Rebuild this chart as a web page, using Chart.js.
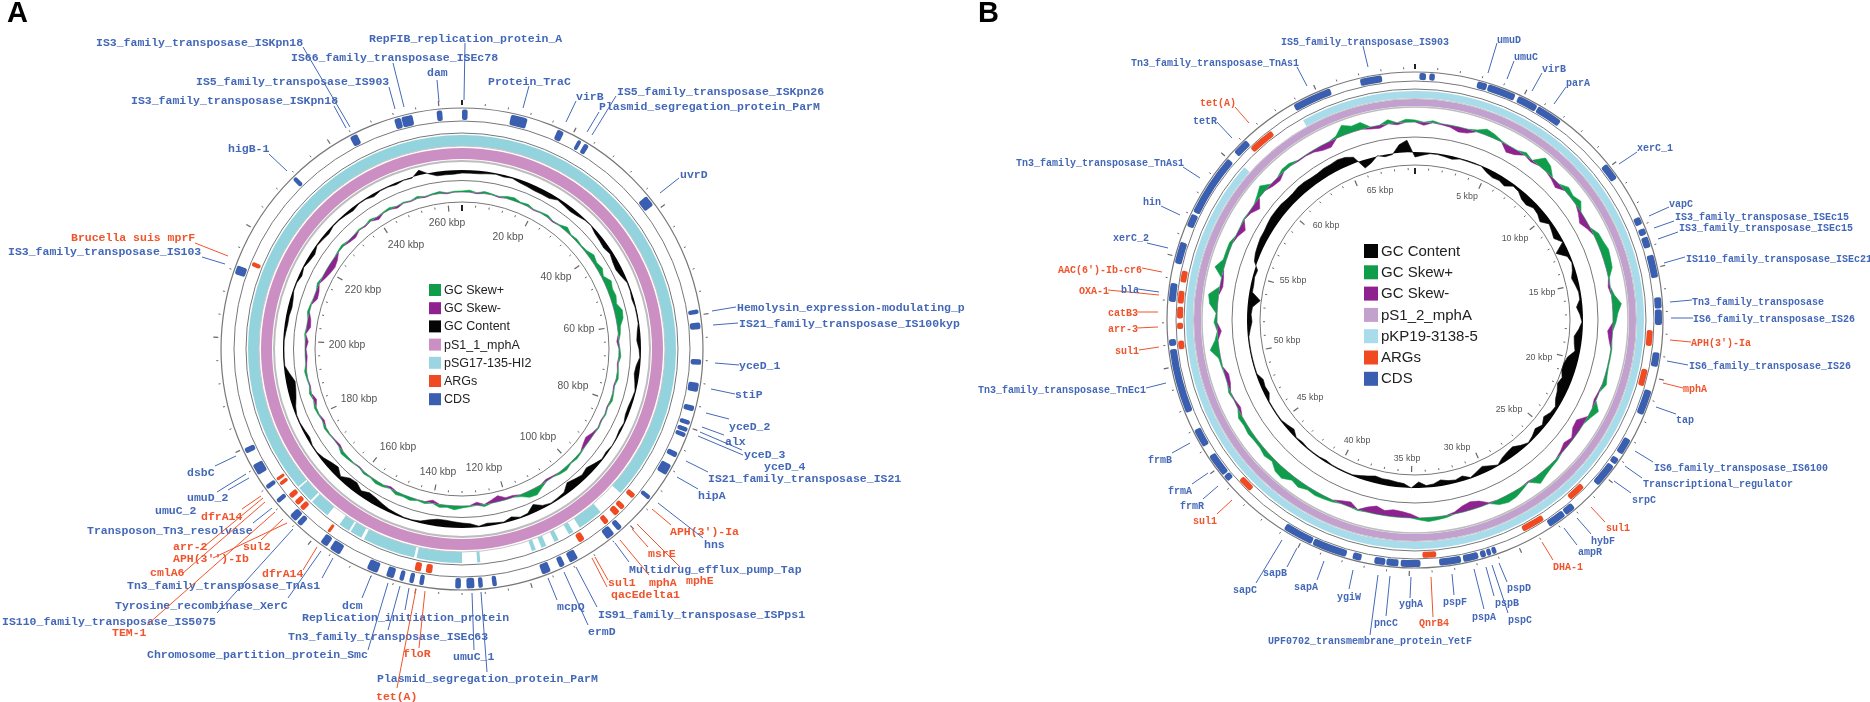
<!DOCTYPE html>
<html>
<head>
<meta charset="utf-8">
<title>Plasmid maps</title>
<script src="https://cdn.jsdelivr.net/npm/chart.js@4"></script>
<style>
  body { margin: 0; background: #fff; }
  canvas { position: absolute; top: 0; }
</style>
</head>
<body>
<canvas id="ringsA" width="1000" height="702" style="left:0"></canvas>
<canvas id="ringsB" width="935" height="702" style="left:935px"></canvas>
<canvas id="trackA" width="1000" height="702" style="left:0"></canvas>
<canvas id="trackB" width="935" height="702" style="left:935px"></canvas>
<script>
// panel A, plasmid length 264 kbp, profiles every 2 kbp
const lengthA = 264;
const stepA = 2;
const gcA = [
  -3,-3,-3,-2,-1,-2,-1,-3,-4,-5,
  -5,-5,-2,-3,-4,-3,-1,-0.5,-3,-4,
  -5,-3,-5,-6,-4,-1,-1,-2,-1,-1,
  -1,-3,-4,-2,-1,-4,-5,-3,-1,-2,
  -3,-3,-1,-2,-1,-0.5,-2,-1,-4,-7,
  -5,-7,-9,-3,-2,-1,-3,-8,-2,-1,
  -4,-1,-2,-3,-1,-4,-5,-6,-7,-7,
  -5,-2,-1,-1,-2,-3,-5,-7,-8,-5,
  -9,-8,-3,-8,-6,-3,-1,-1,-3,-2,
  -1,-1,-3,-6,-8,-9,-5,-1,-1,-1,
  -1,-2,-3,-3,-4,-3,-1,-1,-3,-1,
  -3,-4,-1,-2,-3,-1,-1,-2,-3,-1,
  -1,-3,-1,-1,-2,-0.5,-1,5,-0.5,-4,
  -4,-4
];
const skewA = [
  1,2,-1,2,1,-1,2,3,1,2,
  -1,1,2,-1,1,4,1,2,1,2,
  5,3,5,2,7,5,6,4,8,7,
  3,2,-2,1,2,-1,1,2,-1,1,
  2,-1,1,-1,1,-2,-5,-3,1,2,
  1,3,2,-1,-2,3,7,6,2,-2,
  -2,-6,-3,2,-3,1,2,4,2,3,
  -3,2,1,3,2,3,-2,2,3,1,
  2,-1,1,2,3,-2,-1,1,2,-2,
  1,2,-3,2,-1,1,2,-1,-2,-1,
  -3,1,-4,-3,2,1,-4,-3,2,-3,
  -5,-6,-4,1,2,-2,-3,1,-1,2,
  -3,1,2,-2,1,-1,2,-1,1,2,
  -1,1
];
const cdsStartA = [0,8.7,17.3,21.3,22.6,36.9,59,61.3,67.8,72,76.1,78.8,80.1,81.1,84.8,87.3,93.8,101.2,103,110.7,113.3,116,125.8,128.3,129.8,132.2,138.8,140.6,142.4,144.2,147.2,154.6,157.2,163,164.3,168.6,171.7,174.7,179,211.4,231,243.5,251.9,253.2,259.5];
const cdsEndA = [1,11.7,18.5,22,23.5,38.9,59.8,62.5,68.8,73.6,77.1,79.6,80.9,81.9,85.8,89.3,94.6,102.2,104.6,112.3,114.3,117.6,126.6,129.1,131.2,133.2,139.6,141.4,143.2,145.6,149.2,156.6,158.6,164,165.7,169.4,172.5,176.7,180,213,231.8,244.9,253.1,255.2,260.5];
const argStartA = [95.3,98.2,99.6,102.3,107.9,137.6,139.7,158.2,164.6,166,167.7,170.8,171.9,213.8];
const argEndA = [96.3,99.2,100.8,103.3,109.1,138.8,140.9,158.8,165.6,167,168.7,171.5,172.5,214.6];
const refStartA = [0,102.4,109,112.3,115,117.2,128.4,132,141.5,152.6,155.4,160.6,165,168.6];
const refEndA = [97,107.5,110,113.2,116,118,129,141,152,155,157.6,164.6,168.3,264];
const queryStartA = [0];
const queryEndA = [264];
const legendNamesA = ['GC Skew+','GC Skew-','GC Content','pS1_1_mphA','pSG17-135-HI2','ARGs','CDS'];
const legendColorsA = ['#0f9d4b','#8e2390','#050505','#cb8fc3','#9bd5e1','#f04a23','#3a5fb0'];
const kbpTicksA = ['20 kbp','40 kbp','60 kbp','80 kbp','100 kbp','120 kbp','140 kbp','160 kbp','180 kbp','200 kbp','220 kbp','240 kbp','260 kbp'];

// panel B, plasmid length 69.5 kbp, profiles every 0.5 kbp
const lengthB = 69.5;
const stepB = 0.5;
const gcB = [
  -5,-3,-1,-1,-2,-3,-1,-1,-1,-0.5,
  -4,-6,-5,-7,-2,-3,-7,-8,-5,-6,
  -9,-3,-5,-7,-1,-12,-3,-1,-3,-6,
  -4,-2,-2,-6,-3,-1,-4,-8,-7,-5,
  -11,-13,-13,-10,-12,-9,-7,-3,-4,-7,
  -3,-6,-3,-1,-4,-8,-7,-5,-1,-4,
  -7,-4,-1,-5,-3,-4,-6,-3,-2,-6,
  0,-4,-5,-6,-6,-7,-5,-3,-1,-1,
  -1,-1,-2,-1,-1,-1,-2,-1,-5,-3,
  -1,-1,-1,-1,-5,-4,-5,-1,-1,-1,
  -1,-1,-1,-3,-5,-4,-5,-12,-3,-3,
  -2,-3,3,5,6,7,7,8,9,9,
  9,8,8,9,9,8,8,9,9,10,
  9,6,-8,-5,0.5,-2,-1,8,12
];
const skewB = [
  2,-3,2,-1,-2,-5,-4,2,6,4,
  1,-7,-5,3,-2,10,7,-2,-5,5,
  3,6,-3,-7,-3,5,6,8,7,6,
  1,-2,3,9,5,3,-5,-3,1,1,
  1,2,4,-1,-2,7,3,-8,-7,-2,
  -5,-2,2,3,5,8,-1,3,6,7,
  5,-1,-6,-8,-6,-2,2,3,4,2,
  -4,-6,-7,-5,-8,-5,1,-5,-3,2,
  3,4,3,6,4,9,8,3,5,3,
  3,4,3,4,-3,-1,2,-3,-4,1,
  2,9,3,-4,3,1,8,10,-3,-2,
  9,3,3,3,-2,-6,1,-2,-7,3,
  7,-3,-4,3,3,-1,-1,-2,-5,-6,
  2,10,6,7,-2,-3,4,-2,3
];
const cdsStartB = [0.2,0.65,2.85,3.35,4.8,5.8,9.8,12.6,13.15,13.55,14.4,16.35,16.9,18.85,20.6,23,24,24.4,26.95,27.5,31,31.25,31.5,31.85,32.65,34.5,35.5,36.1,37.2,37.9,39.55,44.25,44.6,46.15,47.85,50.95,52.95,54.7,56.45,57.15,60.4,63.8,67];
const cdsEndB = [0.5,0.9,3.3,4.65,5.75,7,10.6,12.95,13.45,14.05,15.45,16.85,17.6,19.5,21.75,23.75,24.3,25.5,27.45,28.35,31.2,31.45,31.75,32.55,33.65,35.4,36.05,36.6,37.6,39.5,40.95,44.55,45.65,47,50.8,51.25,53.8,55.7,57.05,60,61.15,65.6,68];
const argStartB = [17.85,19.7,26,28.4,33.75,43.25,50.75,51.7,52.2,52.9,53.9,61.05];
const argEndB = [18.6,20.5,26.85,29.5,34.4,43.95,51.15,52,52.75,53.5,54.45,62.3];
const refStartB = [0,63.85];
const refEndB = [60.2,69.5];
const queryStartB = [0];
const queryEndB = [69.5];
const legendNamesB = ['GC Content','GC Skew+','GC Skew-','pS1_2_mphA','pKP19-3138-5','ARGs','CDS'];
const legendColorsB = ['#050505','#0f9d4b','#8e2390','#c3a1cf','#a8dcea','#f04a23','#3a5fb0'];
const kbpTicksB = ['5 kbp','10 kbp','15 kbp','20 kbp','25 kbp','30 kbp','35 kbp','40 kbp','45 kbp','50 kbp','55 kbp','60 kbp','65 kbp'];

const argNames = ["Brucella suis mprF","APH(3')-Ia",'msrE','mphE','mphA','sul1','qacEdelta1','dfrA14','arr-2','sul2',"APH(3'')-Ib",'cmlA6','TEM-1','floR','tet(A)',"AAC(6')-Ib-cr6",'OXA-1','catB3','arr-3','QnrB4','DHA-1'];

const calloutTextA = [
  'IS3_family_transposase_ISKpn18','IS66_family_transposase_ISEc78','IS5_family_transposase_IS903','IS3_family_transposase_ISKpn18','higB-1','RepFIB_replication_protein_A','dam',
  'Protein_TraC','virB','IS5_family_transposase_ISKpn26','Plasmid_segregation_protein_ParM','uvrD','Hemolysin_expression-modulating_p','IS21_family_transposase_IS100kyp',
  'yceD_1','stiP','yceD_2','alx','yceD_3','yceD_4','IS21_family_transposase_IS21','hipA',"APH(3')-Ia",'hns','msrE','Multidrug_efflux_pump_Tap','mphE','mphA','sul1','qacEdelta1','IS91_family_transposase_ISPps1','mcpQ','ermD','umuC_1','Plasmid_segregation_protein_ParM',
  'dsbC','umuD_2','umuC_2','dfrA14','Transposon_Tn3_resolvase','arr-2','sul2',"APH(3'')-Ib",'cmlA6','dfrA14','Tn3_family_transposase_TnAs1','Tyrosine_recombinase_XerC','dcm','Replication_initiation_protein','IS110_family_transposase_IS5075','TEM-1','Tn3_family_transposase_ISEc63','Chromosome_partition_protein_Smc','floR','tet(A)',
  'Brucella suis mprF','IS3_family_transposase_IS103'
];
// text x, text y, then the leader line
const calloutLayoutA = [
  [96,43,303,47,350,127],[291,58,393,63,404,107],[196,82,389,87,395,109],[131,101,334,106,346,128],[228,149,269,154,287,171],[369,39,465,43,464,100],[427,73,437,80,439,102],
  [488,82,529,86,523,108],[576,97,576,101,566,122],[617,92,616,96,592,135],[599,107,599,112,587,132],[680,175,679,178,660,193],[737,308,736,307,712,311],[739,324,738,323,713,325],
  [739,366,739,365,715,363],[735,395,735,394,711,389],[729,427,729,419,706,413],[725,442,724,435,702,427],[744,455,742,450,700,432],[764,467,743,455,698,436],[708,479,708,472,686,461],[698,496,698,489,677,477],[670,532,671,525,652,509],[704,545,703,538,658,503],[648,554,648,547,632,529],[629,570,629,562,615,543],[686,581,680,567,637,524],[649,583,649,575,620,540],[608,583,608,580,595,557],[611,595,607,587,592,558],[598,615,597,607,576,567],[557,607,557,600,548,578],[588,632,588,625,564,572],[453,657,474,650,472,593],[377,679,487,672,481,592],
  [187,473,215,466,236,456],[187,498,217,492,246,474],[155,511,228,490,249,478],[201,517,242,509,261,496],[87,531,253,523,272,508],[173,547,200,550,263,498],[243,547,261,540,283,519],[173,559,213,558,287,523],[150,573,183,573,265,502],[262,574,303,570,317,547],[127,586,322,578,333,558],[115,606,288,598,321,551],[342,606,362,598,371,576],[302,618,405,610,409,588],[2,622,217,613,293,529],[112,633,147,625,275,512],[288,637,388,630,400,586],[147,655,368,650,388,583],[403,654,419,648,425,591],[376,697,397,688,416,589],
  [71,238,195,243,228,256],[8,252,202,257,225,264]
];
const kbpPosA = [[508,237],[556,277],[579,329],[573,386],[538,437],[484,468],[438,472],[398,447],[359,399],[347,345],[363,290],[406,245],[447,223]];

const calloutTextB = [
  'IS5_family_transposase_IS903','Tn3_family_transposase_TnAs1','tet(A)','tetR','Tn3_family_transposase_TnAs1','hin','xerC_2',"AAC(6')-Ib-cr6",'OXA-1','bla','catB3','arr-3','sul1',
  'Tn3_family_transposase_TnEc1','frmB','frmA','frmR','sul1','sapC','sapB','sapA','ygiW','pncC','yghA','UPF0702_transmembrane_protein_YetF',
  'QnrB4','pspF','pspA','pspB','pspC','pspD','DHA-1','ampR','hybF','sul1','srpC','Transcriptional_regulator','IS6_family_transposase_IS6100','tap','mphA','IS6_family_transposase_IS26',"APH(3')-Ia",
  'IS6_family_transposase_IS26','Tn3_family_transposase','IS110_family_transposase_ISEc21','IS3_family_transposase_ISEc15','IS3_family_transposase_ISEc15','vapC','xerC_1','parA','virB','umuC','umuD'
];
const calloutLayoutB = [
  [1281,42,1363,46,1368,67],[1131,63,1297,67,1307,86],[1200,103,1235,107,1249,123],[1193,121,1217,122,1232,138],[1016,163,1183,167,1200,178],[1143,202,1161,206,1180,215],[1113,238,1147,243,1168,248],[1058,270,1142,268,1162,272],[1079,291,1108,290,1159,295],[1121,290,1138,289,1159,292],[1108,313,1137,312,1158,312],[1108,329,1137,328,1158,327],[1115,351,1139,350,1159,347],
  [978,390,1146,388,1166,383],[1148,460,1172,453,1190,443],[1168,491,1192,484,1208,473],[1180,506,1203,499,1218,486],[1193,521,1217,514,1232,500],[1233,590,1256,583,1282,540],[1263,573,1287,567,1297,548],[1294,587,1317,580,1324,561],[1337,597,1349,589,1353,570],[1374,623,1386,616,1390,576],[1399,604,1410,598,1411,577],[1268,641,1370,635,1378,575],
  [1419,623,1433,617,1431,577],[1443,602,1454,595,1452,574],[1472,617,1484,609,1474,569],[1495,603,1494,596,1486,567],[1508,620,1508,613,1492,565],[1507,588,1507,582,1499,563],[1553,567,1553,560,1542,542],[1578,552,1577,545,1564,528],[1591,541,1591,534,1577,518],[1606,528,1605,522,1591,507],[1632,500,1631,493,1614,481],[1643,484,1642,478,1625,466],[1654,468,1653,462,1635,451],[1676,420,1676,414,1656,407],[1683,389,1683,388,1663,383],[1689,366,1688,365,1667,361],[1691,343,1691,342,1670,340],
  [1693,319,1693,318,1671,318],[1692,302,1692,300,1670,302],[1686,259,1685,257,1664,263],[1679,228,1678,232,1658,239],[1675,217,1674,221,1654,228],[1669,204,1669,207,1649,216],[1637,148,1637,152,1619,164],[1566,83,1566,87,1554,104],[1542,69,1542,73,1532,91],[1514,57,1514,61,1507,79],[1497,40,1497,43,1488,73]
];
const kbpPosB = [[1467,197],[1515,239],[1542,293],[1539,358],[1509,410],[1457,448],[1407,459],[1357,441],[1310,398],[1287,341],[1293,281],[1326,226],[1380,191]];

const blue = '#4468b8';
const orange = '#f0542c';

// turn block starts and ends into doughnut slices with see-through gaps
function slices(starts, ends, total, color) {
  const data = [], colors = [];
  let pos = 0;
  starts.forEach((s, i) => {
    if (s > pos) { data.push(s - pos); colors.push('rgba(0,0,0,0)'); pos = s; }
    data.push(ends[i] - pos); colors.push(color); pos = ends[i];
  });
  if (pos < total) { data.push(total - pos); colors.push('rgba(0,0,0,0)'); }
  return { data, backgroundColor: colors, borderWidth: 0 };
}
function spacer(w) {
  return { data: [1], backgroundColor: ['rgba(0,0,0,0)'], borderWidth: 0, weight: w };
}
function ring(starts, ends, total, color, w, radius) {
  const d = slices(starts, ends, total, color);
  d.weight = w;
  if (radius) d.borderRadius = c => (d.backgroundColor[c.dataIndex] === color ? radius : 0);
  return d;
}

function drawPanel(p) {
  new Chart(document.getElementById(p.ringId), {
    type: 'doughnut',
    data: {
      labels: [],
      datasets: [
        spacer(p.R - p.cds[0]),
        ring(p.cdsStart, p.cdsEnd, p.total, p.colors.CDS, p.cds[0] - p.cds[1], 2),
        spacer(p.cds[1] - p.arg[0]),
        ring(p.argStart, p.argEnd, p.total, p.colors.ARGs, p.arg[0] - p.arg[1], 2),
        spacer(p.arg[1] - p.ref[0]),
        ring(p.refStart, p.refEnd, p.total, p.colors.ref, p.ref[0] - p.ref[1]),
        spacer(p.ref[1] - p.query[0]),
        ring(p.queryStart, p.queryEnd, p.total, p.colors.query, p.query[0] - p.query[1])
      ]
    },
    options: {
      responsive: false, animation: false, events: [],
      cutout: p.query[1],
      layout: { padding: p.padding },
      plugins: { legend: { display: false }, tooltip: { enabled: false } }
    }
  });

  const labels = p.gc.map((v, i) => (i * p.step) + ' kbp');
  const plus = p.skew.map(v => p.skewBase + Math.max(v, 0));
  const minus = p.skew.map(v => p.skewBase + Math.min(v, 0));
  const gcLine = p.gc.map(v => p.gcBase + v);
  const gcFlat = p.gc.map(() => p.gcBase);
  const skewFlat = p.skew.map(() => p.skewBase);

  const overlay = {
    id: 'overlay',
    afterDraw(chart) {
      const ctx = chart.ctx, r = chart.scales.r;
      // tick marks just outside the outer ring and inside the inner ring
      ctx.save();
      labels.forEach((l, i) => {
        const kbp = i * p.step;
        const major = i % 10 === 0, minor = i % 2 === 0;
        if (!minor) return;
        [[p.outer + 3, p.outer + (major ? 8 : 5)], [p.inner - 3, p.inner - (major ? 9 : 5)]].forEach(t => {
          const a = r.getPointPositionForValue(i, t[0]), b = r.getPointPositionForValue(i, t[1]);
          ctx.lineWidth = kbp === 0 ? 2 : (major ? 1.2 : 1);
          ctx.strokeStyle = kbp === 0 ? '#222' : '#666';
          ctx.beginPath(); ctx.moveTo(a.x, a.y); ctx.lineTo(b.x, b.y); ctx.stroke();
        });
      });
      // kbp labels
      ctx.fillStyle = '#555';
      ctx.font = p.kbpFont + ' "Liberation Sans"';
      ctx.textAlign = 'center'; ctx.textBaseline = 'middle';
      p.kbpText.forEach((t, i) => ctx.fillText(t, p.kbpPos[i][0] - p.left, p.kbpPos[i][1]));
      // gene callouts
      ctx.font = 'bold ' + p.calloutFont + ' "Liberation Mono"';
      ctx.textAlign = 'left'; ctx.lineWidth = 1;
      p.calloutText.forEach((t, i) => {
        const c = p.calloutLayout[i];
        const col = argNames.includes(t) ? orange : blue;
        ctx.strokeStyle = col;
        ctx.beginPath(); ctx.moveTo(c[2] - p.left, c[3]); ctx.lineTo(c[4] - p.left, c[5]); ctx.stroke();
        ctx.fillStyle = col;
        ctx.fillText(t, c[0] - p.left, c[1]);
      });
      // legend in the middle of the circle
      ctx.font = p.legend.font + ' "Liberation Sans"';
      p.legendNames.forEach((t, i) => {
        const y = p.legend.y + i * p.legend.dy;
        ctx.fillStyle = p.legendColors[i];
        ctx.fillRect(p.legend.x - p.left, y - p.legend.box / 2, p.legend.box, p.legend.box);
        ctx.fillStyle = '#222';
        ctx.fillText(t, p.legend.x - p.left + p.legend.box + 3, y + 0.5);
      });
      // panel letter
      ctx.fillStyle = '#000';
      ctx.font = 'bold 29px "Liberation Sans"';
      ctx.fillText(p.letter, p.letterX - p.left, 14);
      ctx.restore();
    }
  };

  new Chart(document.getElementById(p.trackId), {
    type: 'radar',
    data: {
      labels,
      datasets: [
        { data: gcLine, borderColor: '#050505', backgroundColor: '#050505', fill: 3, borderWidth: 0.6, pointRadius: 0 },
        { data: plus, borderColor: p.colors.plus, backgroundColor: p.colors.plus, fill: 4, borderWidth: 0.6, pointRadius: 0 },
        { data: minus, borderColor: p.colors.minus, backgroundColor: p.colors.minus, fill: 4, borderWidth: 0.6, pointRadius: 0 },
        { data: gcFlat, borderWidth: 0, pointRadius: 0, fill: false },
        { data: skewFlat, borderWidth: 0, pointRadius: 0, fill: false }
      ]
    },
    options: {
      responsive: false, animation: false, events: [],
      layout: { padding: p.padding },
      plugins: { legend: { display: false }, tooltip: { enabled: false } },
      elements: { line: { tension: 0 } },
      scales: {
        r: {
          min: 0, max: p.R,
          ticks: { display: false },
          afterBuildTicks: s => { s.ticks = [0].concat(p.rings.map(v => v[0])).map(v => ({ value: v })); },
          pointLabels: { display: false },
          angleLines: { display: false },
          grid: {
            circular: true,
            color: c => { const v = p.rings.find(x => x[0] === c.tick.value); return v ? v[1] : '#777'; },
            lineWidth: c => { const v = p.rings.find(x => x[0] === c.tick.value); return v ? v[2] : 1; }
          }
        }
      }
    },
    plugins: [overlay]
  });
}

drawPanel({
  letter: 'A', letterX: 7, left: 0, ringId: 'ringsA', trackId: 'trackA',
  total: lengthA, step: stepA, gc: gcA, skew: skewA,
  R: 260, padding: { left: 202, right: 278, top: 89, bottom: 93 },
  outer: 241, inner: 147, gcBase: 179, skewBase: 157,
  cds: [239.5, 229], arg: [226.5, 217.5], ref: [214, 203], query: [201, 190],
  rings: [[147,'#777',1],[168.5,'#777',1],[188,'#bdbdbd',2],[203,'#c5c5c5',1],[216,'#777',1],[228,'#777',1],[241,'#777',1.2]],
  cdsStart: cdsStartA, cdsEnd: cdsEndA, argStart: argStartA, argEnd: argEndA,
  refStart: refStartA, refEnd: refEndA, queryStart: queryStartA, queryEnd: queryEndA,
  colors: { CDS: '#3a5fb0', ARGs: '#f04a23', ref: '#93d3dd', query: '#cb8fc3', plus: '#0f9d4b', minus: '#8e2390' },
  kbpText: kbpTicksA, kbpPos: kbpPosA, kbpFont: '10.3px',
  calloutText: calloutTextA, calloutLayout: calloutLayoutA, calloutFont: '11.5px',
  legendNames: legendNamesA, legendColors: legendColorsA,
  legend: { x: 429, y: 290, dy: 18.2, box: 12, font: '12.5px' }
});

drawPanel({
  letter: 'B', letterX: 978, left: 935, ringId: 'ringsB', trackId: 'trackB',
  total: lengthB, step: stepB, gc: gcB, skew: skewB,
  R: 270, padding: { left: 210, right: 185, top: 50, bottom: 112 },
  outer: 248, inner: 155, gcBase: 168, skewBase: 198,
  cds: [247, 240], arg: [238, 232], ref: [229, 222], query: [221, 214],
  rings: [[155,'#777',1],[183,'#777',1],[213,'#bdbdbd',1.5],[221.5,'#c5c5c5',1],[231,'#777',1],[239,'#777',1],[248,'#777',1.2]],
  cdsStart: cdsStartB, cdsEnd: cdsEndB, argStart: argStartB, argEnd: argEndB,
  refStart: refStartB, refEnd: refEndB, queryStart: queryStartB, queryEnd: queryEndB,
  colors: { CDS: '#3a5fb0', ARGs: '#f04a23', ref: '#a8dcea', query: '#c3a1cf', plus: '#0f9d4b', minus: '#8e2390' },
  kbpText: kbpTicksB, kbpPos: kbpPosB, kbpFont: '8.9px',
  calloutText: calloutTextB, calloutLayout: calloutLayoutB, calloutFont: '10px',
  legendNames: legendNamesB, legendColors: legendColorsB,
  legend: { x: 1364, y: 251, dy: 21.3, box: 14, font: '15px' }
});
</script>
</body>
</html>
